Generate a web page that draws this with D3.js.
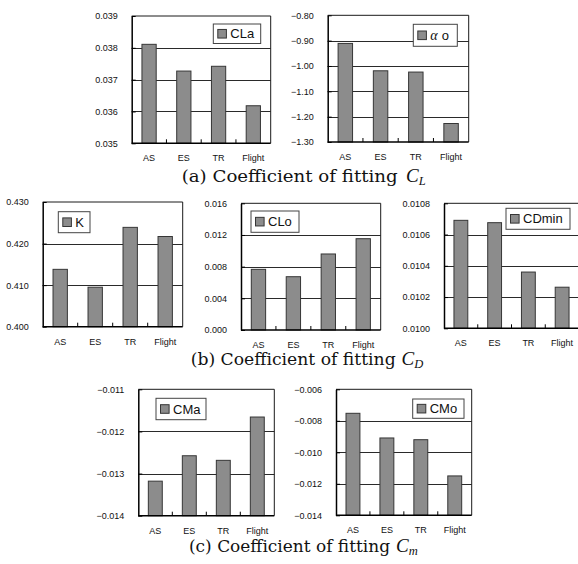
<!DOCTYPE html>
<html>
<head>
<meta charset="utf-8">
<script src="https://cdn.jsdelivr.net/npm/d3@7"></script>
<style>
  html, body { margin: 0; padding: 0; background: #fff; }
  svg { display: block; }
</style>
</head>
<body>
<svg id="fig" width="578" height="564"></svg>
<script>
// Fitted coefficients per data source
const categories = ["AS", "ES", "TR", "Flight"];

const claValues   = [0.03811, 0.03727, 0.03742, 0.03618];
const alphaValues = [-0.911, -1.019, -1.024, -1.227];
const kValues     = [0.4138, 0.4095, 0.4239, 0.4217];
const cloValues   = [0.00766, 0.00673, 0.00960, 0.01153];
const cdminValues = [0.010691, 0.010676, 0.010360, 0.010263];
const cmaValues   = [-0.013180, -0.012577, -0.012686, -0.011658];
const cmoValues   = [-0.007524, -0.009090, -0.009200, -0.011500];

// Axis tick values
const claTicks   = [0.035, 0.036, 0.037, 0.038, 0.039];
const alphaTicks = [-1.30, -1.20, -1.10, -1.00, -0.90, -0.80];
const kTicks     = [0.400, 0.410, 0.420, 0.430];
const cloTicks   = [0.000, 0.004, 0.008, 0.012, 0.016];
const cdminTicks = [0.0100, 0.0102, 0.0104, 0.0106, 0.0108];
const cmaTicks   = [-0.014, -0.013, -0.012, -0.011];
const cmoTicks   = [-0.014, -0.012, -0.010, -0.008, -0.006];

const legendLabels = ["CLa", "αo", "K", "CLo", "CDmin", "CMa", "CMo"];

// Panel frames: plot box and legend box
const panels = [
  { values: claValues,   ticks: claTicks,   fmt: ".3f", label: 0, box: [131.7, 16, 270.7, 143.3], leg: [213.3, 24, 47.4, 19.5] },
  { values: alphaValues, ticks: alphaTicks, fmt: ".2f", label: 1, box: [327.7, 15.3, 468.7, 142], leg: [413.3, 24.3, 44, 22] },
  { values: kValues,     ticks: kTicks,     fmt: ".3f", label: 2, box: [42.7, 202, 182.7, 326.7], leg: [58.3, 211.7, 31.7, 21] },
  { values: cloValues,   ticks: cloTicks,   fmt: ".3f", label: 3, box: [241, 203.3, 380.7, 330], leg: [251, 211, 48, 21.3] },
  { values: cdminValues, ticks: cdminTicks, fmt: ".4f", label: 4, box: [444, 203.3, 579, 328.3], leg: [506, 208.3, 64, 21] },
  { values: cmaValues,   ticks: cmaTicks,   fmt: ".3f", label: 5, box: [138.3, 389.3, 274.3, 515.7], leg: [156, 398.3, 50, 21.4] },
  { values: cmoValues,   ticks: cmoTicks,   fmt: ".3f", label: 6, box: [336, 389.3, 471.7, 515.3], leg: [412.7, 399, 51.3, 19.3] }
];

const svg = d3.select("#fig");
const barFill = "#8c8c8c";
const barStroke = "#363636";
const sans = "'Liberation Sans', Arial, sans-serif";

panels.forEach(p => {
  const [x0, y0, x1, y1] = p.box;
  const g = svg.append("g");
  const x = d3.scaleBand().domain(categories).range([x0, x1])
    .paddingInner(0.59).paddingOuter(0.295);
  const yMin = d3.min(p.ticks), yMax = d3.max(p.ticks);
  const y = d3.scaleLinear().domain([yMin, yMax]).range([y1, y0]);

  // horizontal grid lines at inner ticks
  g.selectAll("line.grid").data(p.ticks.slice(1, -1)).join("line")
    .attr("x1", x0).attr("x2", x1)
    .attr("y1", d => Math.round(y(d)) + 0.5).attr("y2", d => Math.round(y(d)) + 0.5)
    .attr("stroke", "#2a2a2a").attr("stroke-width", 1);

  // bars drawn up from the axis minimum
  g.selectAll("rect.bar").data(categories).join("rect")
    .attr("x", d => x(d))
    .attr("width", x.bandwidth())
    .attr("y", (d, i) => y(p.values[i]))
    .attr("height", (d, i) => y(yMin) - y(p.values[i]))
    .attr("fill", barFill).attr("stroke", barStroke).attr("stroke-width", 1);

  // frame: top and right borders
  g.append("path")
    .attr("d", `M${x0},${y0}H${x1}V${y1}`)
    .attr("fill", "none").attr("stroke", "#1a1a1a").attr("stroke-width", 1);

  // y axis with inward ticks
  const yAxis = d3.axisLeft(y).tickValues(p.ticks).tickFormat(d3.format(p.fmt))
    .tickSizeInner(-4).tickSizeOuter(0).tickPadding(14);
  const ya = g.append("g").attr("transform", `translate(${x0},0)`).call(yAxis);
  ya.select(".domain").attr("stroke", "#000").attr("stroke-width", 1.5);
  ya.selectAll(".tick line").attr("stroke", "#000");
  ya.selectAll(".tick text").attr("font-family", sans).attr("font-size", 9).attr("fill", "#111");

  // x axis with inward ticks at category boundaries
  const xa = g.append("g").attr("transform", `translate(0,${y1})`);
  xa.append("line").attr("x1", x0).attr("x2", x1).attr("y1", 0).attr("y2", 0)
    .attr("stroke", "#000").attr("stroke-width", 1.5);
  const step = x.step();
  xa.selectAll("line.tk").data(categories.slice(1)).join("line")
    .attr("x1", d => x(d) - step * 0.295).attr("x2", d => x(d) - step * 0.295)
    .attr("y1", 0).attr("y2", -4).attr("stroke", "#000");
  xa.selectAll("text").data(categories).join("text")
    .attr("x", d => x(d) + x.bandwidth() / 2)
    .attr("y", 15).attr("dy", "0.35em")
    .attr("text-anchor", "middle")
    .attr("font-family", sans).attr("font-size", 9).attr("fill", "#111")
    .text(d => d);

  // legend
  const [lx, ly, lw, lh] = p.leg;
  const lg = g.append("g");
  lg.append("rect").attr("x", lx).attr("y", ly).attr("width", lw).attr("height", lh)
    .attr("fill", "#fff").attr("stroke", "#444").attr("stroke-width", 1);
  lg.append("rect").attr("x", lx + 4.5).attr("y", ly + lh / 2 - 4.3).attr("width", 8.6).attr("height", 8.6)
    .attr("fill", barFill).attr("stroke", barStroke).attr("stroke-width", 1);
  const lt = lg.append("text").attr("x", lx + 17).attr("y", ly + lh / 2).attr("dy", "0.36em")
    .attr("font-family", sans).attr("font-size", 13).attr("fill", "#111");
  const name = legendLabels[p.label];
  if (name === "αo") {
    lt.append("tspan").attr("font-family", "'Liberation Serif', serif").attr("font-style", "italic")
      .attr("font-size", 14).text("α");
    lt.append("tspan").attr("dx", 4).text("o");
  } else {
    lt.text(name);
  }
});

// Figure captions: label text, then italic symbol with subscript
const captions = [
  { tag: "(a) Coefficient of fitting", sub: "L", x: 181.7, len: 216, cx: 406, y: 181.7 },
  { tag: "(b) Coefficient of fitting", sub: "D", x: 190.7, len: 205, cx: 401.5, y: 364.7 },
  { tag: "(c) Coefficient of fitting", sub: "m", x: 189, len: 201, cx: 396, y: 551.7 }
];
const serif = "'DejaVu Serif', 'Liberation Serif', serif";
captions.forEach(c => {
  svg.append("text").attr("x", c.x).attr("y", c.y)
    .attr("font-family", serif).attr("font-size", 16.5).attr("fill", "#111")
    .attr("textLength", c.len).attr("lengthAdjust", "spacingAndGlyphs")
    .text(c.tag);
  const s = svg.append("text").attr("x", c.cx).attr("y", c.y)
    .attr("font-family", "'Liberation Serif', serif").attr("font-style", "italic").attr("fill", "#111");
  s.append("tspan").attr("font-size", 19).text("C");
  s.append("tspan").attr("font-size", 12.5).attr("dy", 3.5).text(c.sub);
});
</script>
</body>
</html>
